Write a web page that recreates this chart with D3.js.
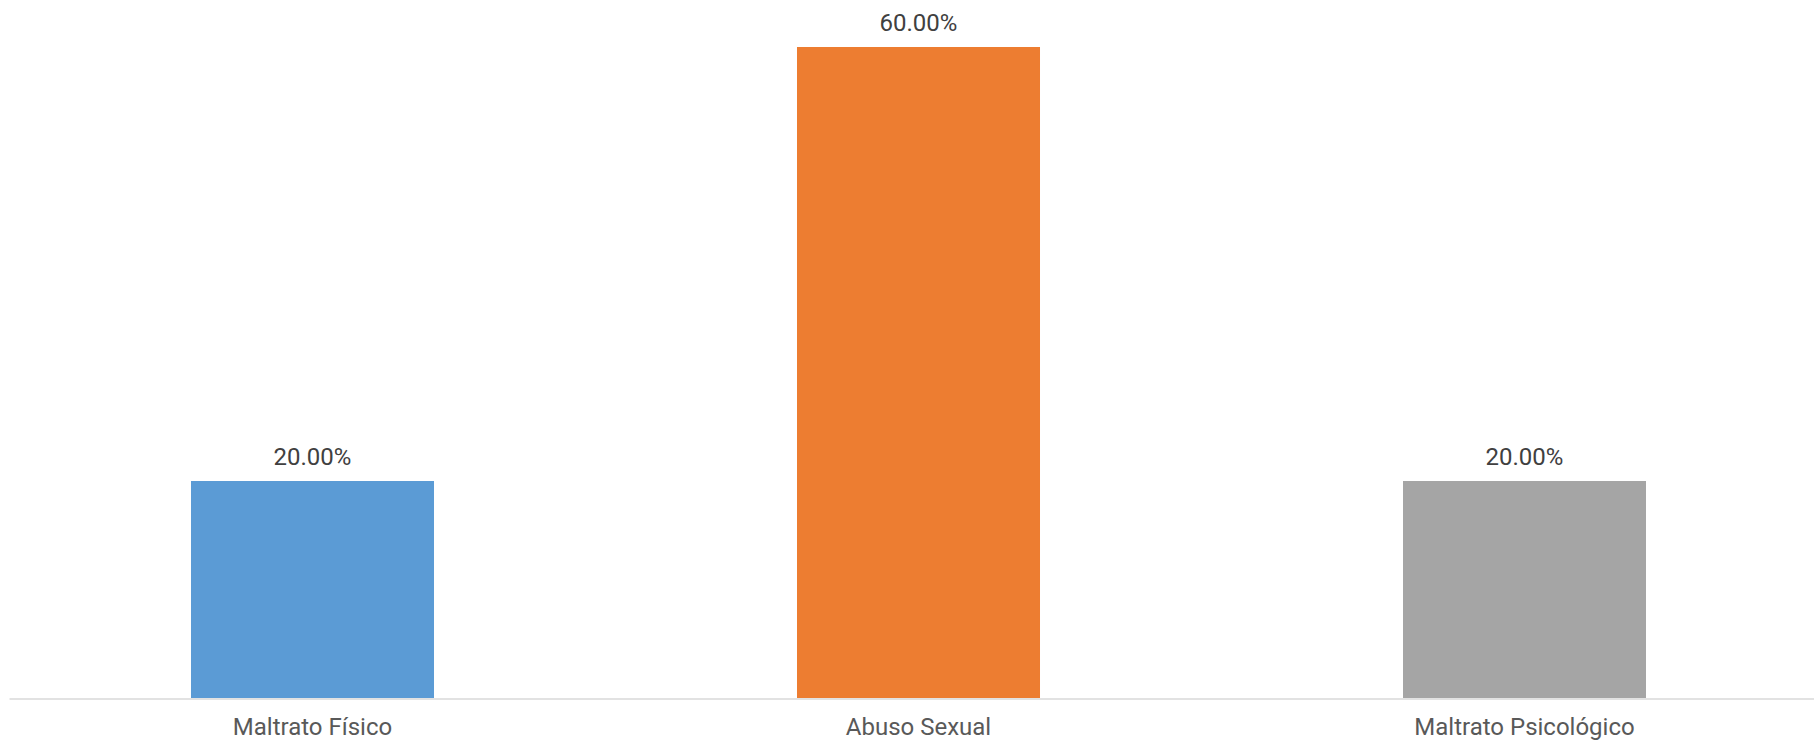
<!DOCTYPE html>
<html>
<head>
<meta charset="utf-8">
<script src="https://cdn.jsdelivr.net/npm/d3@7"></script>
<style>
  html, body { margin: 0; padding: 0; background: #ffffff; }
  svg { display: block; }
  text { font-family: Roboto, "Noto Sans", sans-serif; }
</style>
</head>
<body>
<svg id="chart" width="1814" height="741"></svg>
<script>
const categories = ["Maltrato Físico", "Abuso Sexual", "Maltrato Psicológico"];
const values = [0.20, 0.60, 0.20];
const colors = ["#5B9BD5", "#ED7D31", "#A5A5A5"];

const svg = d3.select("#chart");
const W = 1814, H = 741;

const x = d3.scaleBand()
  .domain(categories)
  .range([9.5, 1827.5])
  .paddingInner(0.599)
  .paddingOuter(0.2995);

const y = d3.scaleLinear()
  .domain([0, 0.6])
  .range([698, 47]);

const data = categories.map((c, i) => ({ c, v: values[i], color: colors[i] }));

svg.selectAll("rect.bar")
  .data(data)
  .join("rect")
  .attr("class", "bar")
  .attr("x", d => x(d.c))
  .attr("width", x.bandwidth())
  .attr("y", d => y(d.v))
  .attr("height", d => y(0) - y(d.v))
  .attr("fill", d => d.color);

// axis baseline
const xAxis = d3.axisBottom(x).tickSize(0).tickPadding(0);
const gx = svg.append("g")
  .attr("transform", `translate(0,${y(0) + 1})`)
  .call(xAxis);
gx.select(".domain")
  .attr("d", `M9.5,0H${W}`)
  .attr("stroke", "#d9d9d9")
  .attr("stroke-width", 1.6);
gx.selectAll(".tick text")
  .attr("fill", "#595959")
  .attr("font-size", 24)
  .attr("font-family", "Roboto, 'Noto Sans', sans-serif")
  .attr("y", 35.5)
  .attr("dy", null);

// value labels
const fmt = d3.format(".2%");
svg.selectAll("text.val")
  .data(data)
  .join("text")
  .attr("class", "val")
  .attr("x", d => x(d.c) + x.bandwidth() / 2)
  .attr("y", d => y(d.v) - 16)
  .attr("text-anchor", "middle")
  .attr("fill", "#404040")
  .attr("font-size", 24)
  .text(d => fmt(d.v));
</script>
</body>
</html>
